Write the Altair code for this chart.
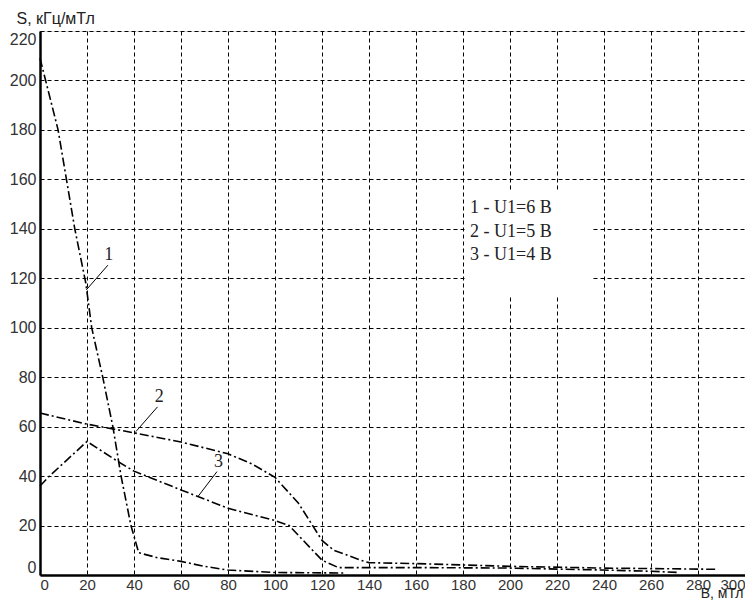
import altair as alt
import pandas as pd

# Curve 1: U1 = 6 B
b1 = [0, 7.7, 14.8, 19.5, 22, 26.7, 31, 34.5, 38.7, 42, 50, 60, 70, 80, 100, 130]
s1 = [209, 180, 140, 118, 100, 80, 60, 40, 20, 9, 7, 5.5, 3.5, 2, 1, 0.8]
# Curve 2: U1 = 5 B
b2 = [0, 20, 40, 60, 80, 90, 100, 110, 120, 125, 138, 140, 160, 200, 240, 288]
s2 = [65.5, 61, 57.5, 53.8, 49, 45, 39.5, 29, 14, 10, 5.5, 5, 4.6, 3.5, 2.8, 2.3]
# Curve 3: U1 = 4 B
b3 = [0, 4, 20, 33, 40, 60, 80, 100, 106, 120, 127, 140, 160, 200, 240, 260, 272]
s3 = [36, 40, 54, 46, 42, 34.4, 27, 22, 20, 6, 3, 3, 3, 2.8, 2, 1.5, 1]

x_ticks = list(range(0, 301, 20))
y_ticks = list(range(0, 221, 20))

legend_lines = ["1 - U1=6 В", "2 - U1=5 В", "3 - U1=4 В"]
legend_x = [183, 183, 183]
legend_y = [148.3, 138.8, 129.4]

num_labels = ["1", "2", "3"]
num_x = [29.3, 50.7, 76]
num_y = [129.4, 72.1, 45.8]

ptr_x = [19.7, 40.8, 67.2]
ptr_y = [115.3, 58, 31.7]
ptr_x2 = [28.9, 50, 75.3]
ptr_y2 = [125.3, 68, 41.8]

box_x, box_x2, box_y, box_y2 = [181], [235], [113.2], [155]

rows = []
for name, bs, ss in (("1", b1, s1), ("2", b2, s2), ("3", b3, s3)):
    for b, s in zip(bs, ss):
        rows.append({"B": b, "S": s, "curve": name})
df = pd.DataFrame(rows)

W, H = 705, 544

xs = alt.Scale(domain=[0, 300], nice=False, zero=False)
ys = alt.Scale(domain=[0, 220], nice=False, zero=False)

x_axis = alt.Axis(
    values=x_ticks, title="В, мТл", titleAngle=0, titleAlign="right", titleBaseline="alphabetic",
    titleX=W - 2, titleY=22, titleFont="Liberation Sans", titleFontSize=14, titleFontWeight="normal",
    titleColor="#222", labelFont="Liberation Sans", labelFontSize=15, labelColor="#333",
    labelFlush=True, labelPadding=2, ticks=False, grid=True, gridDash=[4, 3], gridColor="black",
    gridWidth=1, gridOpacity=1, domainColor="black", domainWidth=2.5,
)
y_axis = alt.Axis(
    values=y_ticks, title="S, кГц/мТл", titleAngle=0, titleAlign="left", titleBaseline="middle",
    titleX=-24, titleY=-13, titleFont="Liberation Sans", titleFontSize=16, titleFontWeight="normal",
    titleColor="#222", labelFont="Liberation Sans", labelFontSize=16, labelColor="#333",
    labelFlush=True, labelPadding=4, ticks=False, grid=True, gridDash=[4, 3], gridColor="black",
    gridWidth=1, gridOpacity=1, domainColor="black", domainWidth=2.5,
)

box = alt.Chart(pd.DataFrame({"x": box_x, "x2": box_x2, "y": box_y, "y2": box_y2})).mark_rect(
    fill="white"
).encode(
    x=alt.X("x:Q", scale=xs, axis=x_axis), x2="x2", y=alt.Y("y:Q", scale=ys, axis=y_axis), y2="y2"
)

lines = alt.Chart(df).mark_line(
    color="black", strokeWidth=1.6, strokeDash=[9, 3, 2, 3]
).encode(
    x=alt.X("B:Q", scale=xs), y=alt.Y("S:Q", scale=ys), detail="curve:N"
)

ptrs = alt.Chart(pd.DataFrame({"x": ptr_x, "y": ptr_y, "x2": ptr_x2, "y2": ptr_y2})).mark_rule(
    color="black", strokeWidth=1
).encode(x=alt.X("x:Q", scale=xs), y=alt.Y("y:Q", scale=ys), x2="x2", y2="y2")

nums = alt.Chart(pd.DataFrame({"x": num_x, "y": num_y, "t": num_labels})).mark_text(
    font="Liberation Serif", fontSize=18, color="#222", align="center", baseline="middle"
).encode(x=alt.X("x:Q", scale=xs), y=alt.Y("y:Q", scale=ys), text="t:N")

leg = alt.Chart(pd.DataFrame({"x": legend_x, "y": legend_y, "t": legend_lines})).mark_text(
    font="Liberation Serif", fontSize=18, color="#222", align="left", baseline="middle"
).encode(x=alt.X("x:Q", scale=xs), y=alt.Y("y:Q", scale=ys), text="t:N")

chart = alt.layer(box, lines, ptrs, nums, leg).properties(
    width=W, height=H,
    autosize=alt.AutoSizeParams(type="none"),
    padding={"left": 32, "top": 23, "right": 0, "bottom": 26},
).configure_view(stroke="black", strokeWidth=1.5).configure(background="white")

chart.save("out.html", embed_options={"renderer": "svg", "actions": False})
